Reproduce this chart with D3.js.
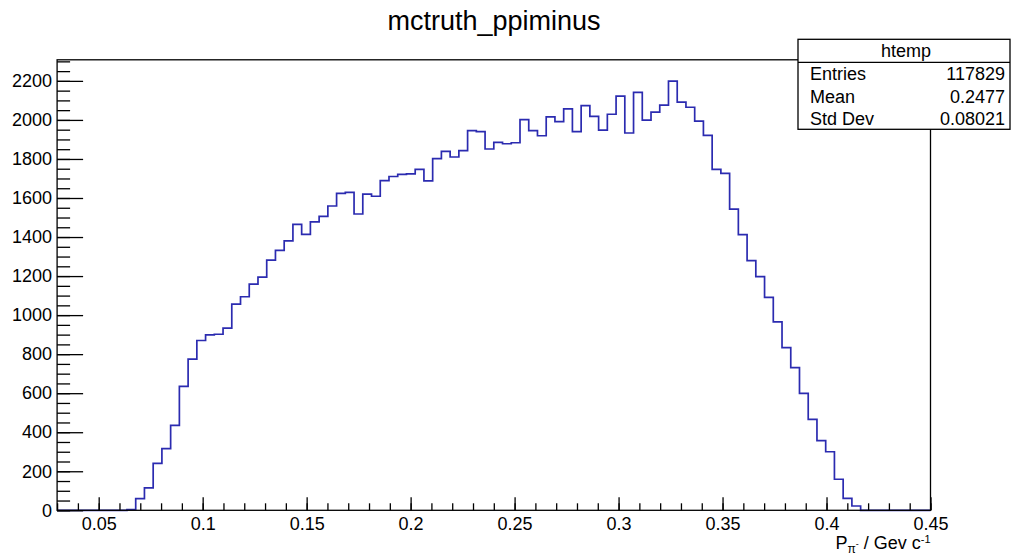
<!DOCTYPE html>
<html>
<head>
<meta charset="utf-8">
<script src="https://cdn.jsdelivr.net/npm/d3@7"></script>
<style>
  body { margin: 0; background: #fff; }
  svg text { font-family: "Liberation Sans", Arial, sans-serif; fill: #000; }
</style>
</head>
<body>
<div id="chart"></div>
<script>
// histogram bins: 100 bins from 0.03 to 0.45
var binLow = 0.03,
    binHigh = 0.45,
    counts = [
      0, 0, 0, 0, 0, 0, 0, 0, 4, 60,
      115, 240, 316, 435, 635, 775, 870, 899, 902, 933,
      1056, 1094, 1159, 1195, 1282, 1332, 1380, 1465, 1414, 1478,
      1506, 1559, 1624, 1629, 1518, 1620, 1609, 1689, 1710, 1721,
      1724, 1747, 1688, 1802, 1839, 1810, 1843, 1945, 1940, 1851,
      1885, 1878, 1883, 2001, 1945, 1919, 2016, 1991, 2057, 1940,
      2073, 2018, 1948, 2029, 2122, 1933, 2141, 1999, 2040, 2076,
      2199, 2091, 2065, 1994, 1921, 1747, 1726, 1543, 1412, 1279,
      1197, 1091, 965, 833, 731, 599, 466, 357, 300, 159,
      61, 22, 0, 0, 0, 0, 0, 0, 0, 0
    ]

var xTicks = [0.05, 0.1, 0.15, 0.2, 0.25, 0.3, 0.35, 0.4, 0.45],
    yTicks = [0, 200, 400, 600, 800, 1000, 1200, 1400, 1600, 1800, 2000, 2200]

var statNames = ["Entries", "Mean", "Std Dev"],
    statValues = ["117829", "0.2477", "0.08021"]

var width = 1011,
    height = 555,
    padL = 57.1,
    padR = 930.5,
    padT = 59.8,
    padB = 510.3,
    yMax = 2308

var x = d3.scaleLinear().domain([binLow, binHigh]).range([padL, padR])
var y = d3.scaleLinear().domain([0, yMax]).range([padB, padT])

var svg = d3.select("#chart").append("svg")
    .attr("width", width)
    .attr("height", height)

svg.append("text")
    .attr("x", 494)
    .attr("y", 30)
    .attr("text-anchor", "middle")
    .style("font-size", "27px")
    .text("mctruth_ppiminus")

// step outline of the histogram
var bw = (binHigh - binLow) / counts.length
var pts = []
counts.forEach(function(c, i) {
  pts.push([binLow + i*bw, c])
  pts.push([binLow + (i+1)*bw, c])
})
var line = d3.line()
    .x(function(d) { return x(d[0]) })
    .y(function(d) { return y(d[1]) })

svg.append("path")
    .datum(pts)
    .attr("d", line)
    .attr("fill", "none")
    .attr("stroke", "#2b2bb0")
    .attr("stroke-width", 1.7)

// frame
svg.append("rect")
    .attr("x", padL)
    .attr("y", padT)
    .attr("width", padR - padL)
    .attr("height", padB - padT)
    .attr("fill", "none")
    .attr("stroke", "#000")
    .attr("stroke-width", 1.3)

// y axis, ticks pointing inward
svg.append("g")
    .attr("transform", "translate(" + padL + ",0)")
    .call(d3.axisLeft(y).tickValues(d3.range(0, yMax, 50)).tickSize(-13).tickFormat(""))
svg.append("g")
    .attr("transform", "translate(" + padL + ",0)")
    .call(d3.axisLeft(y).tickValues(yTicks).tickSize(-26).tickPadding(5).tickFormat(d3.format("d")))

// x axis
svg.append("g")
    .attr("transform", "translate(0," + padB + ")")
    .call(d3.axisBottom(x).tickValues(d3.range(0.03, 0.4501, 0.01)).tickSize(-7).tickFormat(""))
svg.append("g")
    .attr("transform", "translate(0," + padB + ")")
    .call(d3.axisBottom(x).tickValues(xTicks).tickSize(-13).tickPadding(7).tickFormat(d3.format("")))

svg.selectAll(".domain").remove()
svg.selectAll(".tick line").attr("stroke", "#000").attr("stroke-width", 1.3)
svg.selectAll(".tick text").style("font-size", "18px").style("font-family", "Liberation Sans, Arial, sans-serif")

// axis title
var xt = svg.append("text")
    .attr("x", padR)
    .attr("y", 549)
    .attr("text-anchor", "end")
    .style("font-size", "18px")
xt.append("tspan").text("P")
xt.append("tspan").attr("dy", 4).style("font-size", "12px").text("π")
xt.append("tspan").attr("dy", -6).style("font-size", "9px").text("-")
xt.append("tspan").attr("dy", 2).text(" / Gev c")
xt.append("tspan").attr("dy", -6).style("font-size", "11px").text("-1")

// stats box
var box = svg.append("g")
box.append("rect")
    .attr("x", 798)
    .attr("y", 39.3)
    .attr("width", 212)
    .attr("height", 90)
    .attr("fill", "#fff")
    .attr("stroke", "#000")
    .attr("stroke-width", 1.3)
box.append("line")
    .attr("x1", 798).attr("x2", 1010)
    .attr("y1", 62.3).attr("y2", 62.3)
    .attr("stroke", "#000")
    .attr("stroke-width", 1.3)
box.append("text")
    .attr("x", 906)
    .attr("y", 57)
    .attr("text-anchor", "middle")
    .style("font-size", "18px")
    .text("htemp")

box.selectAll("text.sname")
    .data(statNames)
  .enter().append("text")
    .attr("class", "sname")
    .attr("x", 810)
    .attr("y", function(d, i) { return 80 + i*22.7 })
    .style("font-size", "18px")
    .text(function(d) { return d })

box.selectAll("text.sval")
    .data(statValues)
  .enter().append("text")
    .attr("class", "sval")
    .attr("x", 1005)
    .attr("y", function(d, i) { return 80 + i*22.7 })
    .attr("text-anchor", "end")
    .style("font-size", "18px")
    .text(function(d) { return d })
</script>
</body>
</html>
